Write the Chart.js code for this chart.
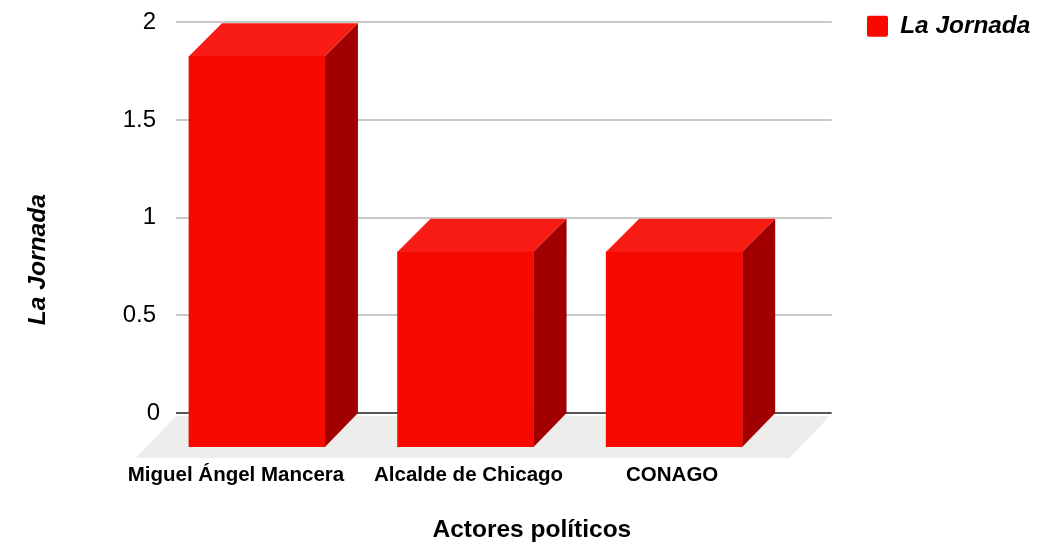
<!DOCTYPE html>
<html lang="es">
<head>
<meta charset="utf-8">
<style>
html,body{margin:0;padding:0;background:#fff;}
#wrap{position:relative;width:1063px;height:554px;}
</style>
<script src="https://cdn.jsdelivr.net/npm/chart.js@4/dist/chart.umd.js"></script>
</head>
<body>
<div id="wrap"><canvas id="c" width="1063" height="554"></canvas></div>
<script>
const categories = ["Miguel Ángel Mancera", "Alcalde de Chicago", "CONAGO"];
const seriesName = "La Jornada";
const seriesValues = [2, 1, 1];
const yTicks = [0, 0.5, 1, 1.5, 2];
const xTitle = "Actores políticos";
const yTitle = "La Jornada";

const FONT = '"Liberation Sans", Arial, sans-serif';
const DEPTH_X = 33, DEPTH_Y = 34;
const UNIT = 195.5;
const labelNudge = [-21, 3, -2];
const yLabelNudge = [-8, -12, -12, -12, -12];

const depth3d = {
  id: 'depth3d',
  afterLayout(chart) {
    const lg = chart.legend;
    lg.top = 4; lg.bottom = 60; lg.left = 857; lg.right = 1063;
    const y = chart.scales.y, x = chart.scales.x;
    if (!y._wrapped) {
      y._wrapped = true;
      const ot = y.drawTitle.bind(y);
      y.drawTitle = function () {
        const a = this.top, b = this.bottom;
        this.top += 25; this.bottom += 25;
        ot(...arguments);
        this.top = a; this.bottom = b;
      };
      const ox = x.drawTitle.bind(x);
      x.drawTitle = function () {
        const a = this.left, b = this.right;
        this.left += 28; this.right += 28;
        ox(...arguments);
        this.left = a; this.right = b;
      };
    }
  },
  beforeDraw(chart) {
    const x = chart.scales.x, y = chart.scales.y;
    x.getLabelItems(chart.chartArea).forEach((it, i) => {
      if (!it._n) { it.options.translation[0] += labelNudge[i] || 0; it._n = true; }
    });
    y.getLabelItems(chart.chartArea).forEach((it, i) => {
      if (!it._n) { it.options.translation[0] += yLabelNudge[i] || 0; it._n = true; }
    });
    const { ctx, chartArea: a } = chart;
    const zero = y.getPixelForValue(0);
    ctx.save();
    ctx.fillStyle = '#ededeb';
    ctx.beginPath();
    ctx.moveTo(a.left, zero + 3);
    ctx.lineTo(a.right - 2, zero + 3);
    ctx.lineTo(a.right - 42, a.bottom + 11);
    ctx.lineTo(a.left - 40, a.bottom + 11);
    ctx.closePath();
    ctx.fill();
    ctx.restore();
  },
  beforeDatasetsDraw(chart) {
    const { ctx } = chart;
    chart.getDatasetMeta(0).data.forEach(bar => {
      const p = bar.getProps(['x', 'y', 'base', 'width'], true);
      const l = p.x - p.width / 2, r = p.x + p.width / 2;
      ctx.save();
      ctx.fillStyle = '#f91c15';
      ctx.beginPath();
      ctx.moveTo(l, p.y);
      ctx.lineTo(l + DEPTH_X, p.y - DEPTH_Y + 1);
      ctx.lineTo(r + DEPTH_X, p.y - DEPTH_Y + 1);
      ctx.lineTo(r, p.y);
      ctx.closePath();
      ctx.fill();
      ctx.fillStyle = '#a20000';
      ctx.beginPath();
      ctx.moveTo(r, p.y);
      ctx.lineTo(r + DEPTH_X, p.y - DEPTH_Y + 1);
      ctx.lineTo(r + DEPTH_X, p.base - DEPTH_Y);
      ctx.lineTo(r, p.base);
      ctx.closePath();
      ctx.fill();
      ctx.restore();
    });
  }
};

new Chart(document.getElementById('c'), {
  type: 'bar',
  data: {
    datasets: [{
      label: seriesName,
      data: seriesValues.map((v, i) => ({ x: i, y: v })),
      backgroundColor: '#f60a00',
      borderWidth: 0,
      barThickness: 136,
      yAxisID: 'front',
      xAxisID: 'x'
    }]
  },
  plugins: [depth3d],
  options: {
    responsive: false,
    animation: false,
    layout: { padding: { top: 0, right: 48, bottom: 0, left: 0 } },
    plugins: {
      tooltip: { enabled: false },
      legend: {
        position: 'right',
        align: 'start',
        labels: {
          boxWidth: 21, boxHeight: 21, padding: 10,
          color: '#000',
          useBorderRadius: true, borderRadius: 2,
          font: { family: FONT, size: 24.4, weight: 'bold', style: 'italic' }
        }
      }
    },
    scales: {
      x: {
        type: 'linear',
        offset: false,
        min: -0.388,
        max: 2.755,
        afterBuildTicks(s) { s.ticks = categories.map((_, i) => ({ value: i })); },
        afterFit(s) { s.height = 107; },
        grid: { display: false },
        border: { display: false },
        ticks: {
          color: '#000',
          padding: 8,
          maxRotation: 0,
          autoSkip: false,
          font: { family: FONT, size: 20.5, weight: 'bold' },
          callback: v => categories[v]
        },
        title: {
          display: true, text: xTitle, color: '#000',
          padding: { top: 20, bottom: 9 },
          font: { family: FONT, size: 24.5, weight: 'bold' }
        }
      },
      y: {
        min: -34 / UNIT,
        max: 2,
        afterBuildTicks(s) { s.ticks = yTicks.map(v => ({ value: v })); },
        afterFit(s) { s.width = 176; },
        grid: {
          color: c => c.tick && c.tick.value === 0 ? '#555555' : '#c8c8c8',
          lineWidth: 2,
          drawTicks: false
        },
        border: { display: false },
        ticks: {
          color: '#000',
          padding: 8,
          font: { family: FONT, size: 24 },
          callback: v => String(v)
        },
        title: {
          display: true, text: yTitle, color: '#000',
          padding: { top: 23, bottom: 0 },
          font: { family: FONT, size: 24.6, weight: 'bold', style: 'italic' }
        }
      },
      front: {
        display: false,
        min: 0,
        max: 425 / UNIT
      }
    }
  }
});
</script>
</body>
</html>
